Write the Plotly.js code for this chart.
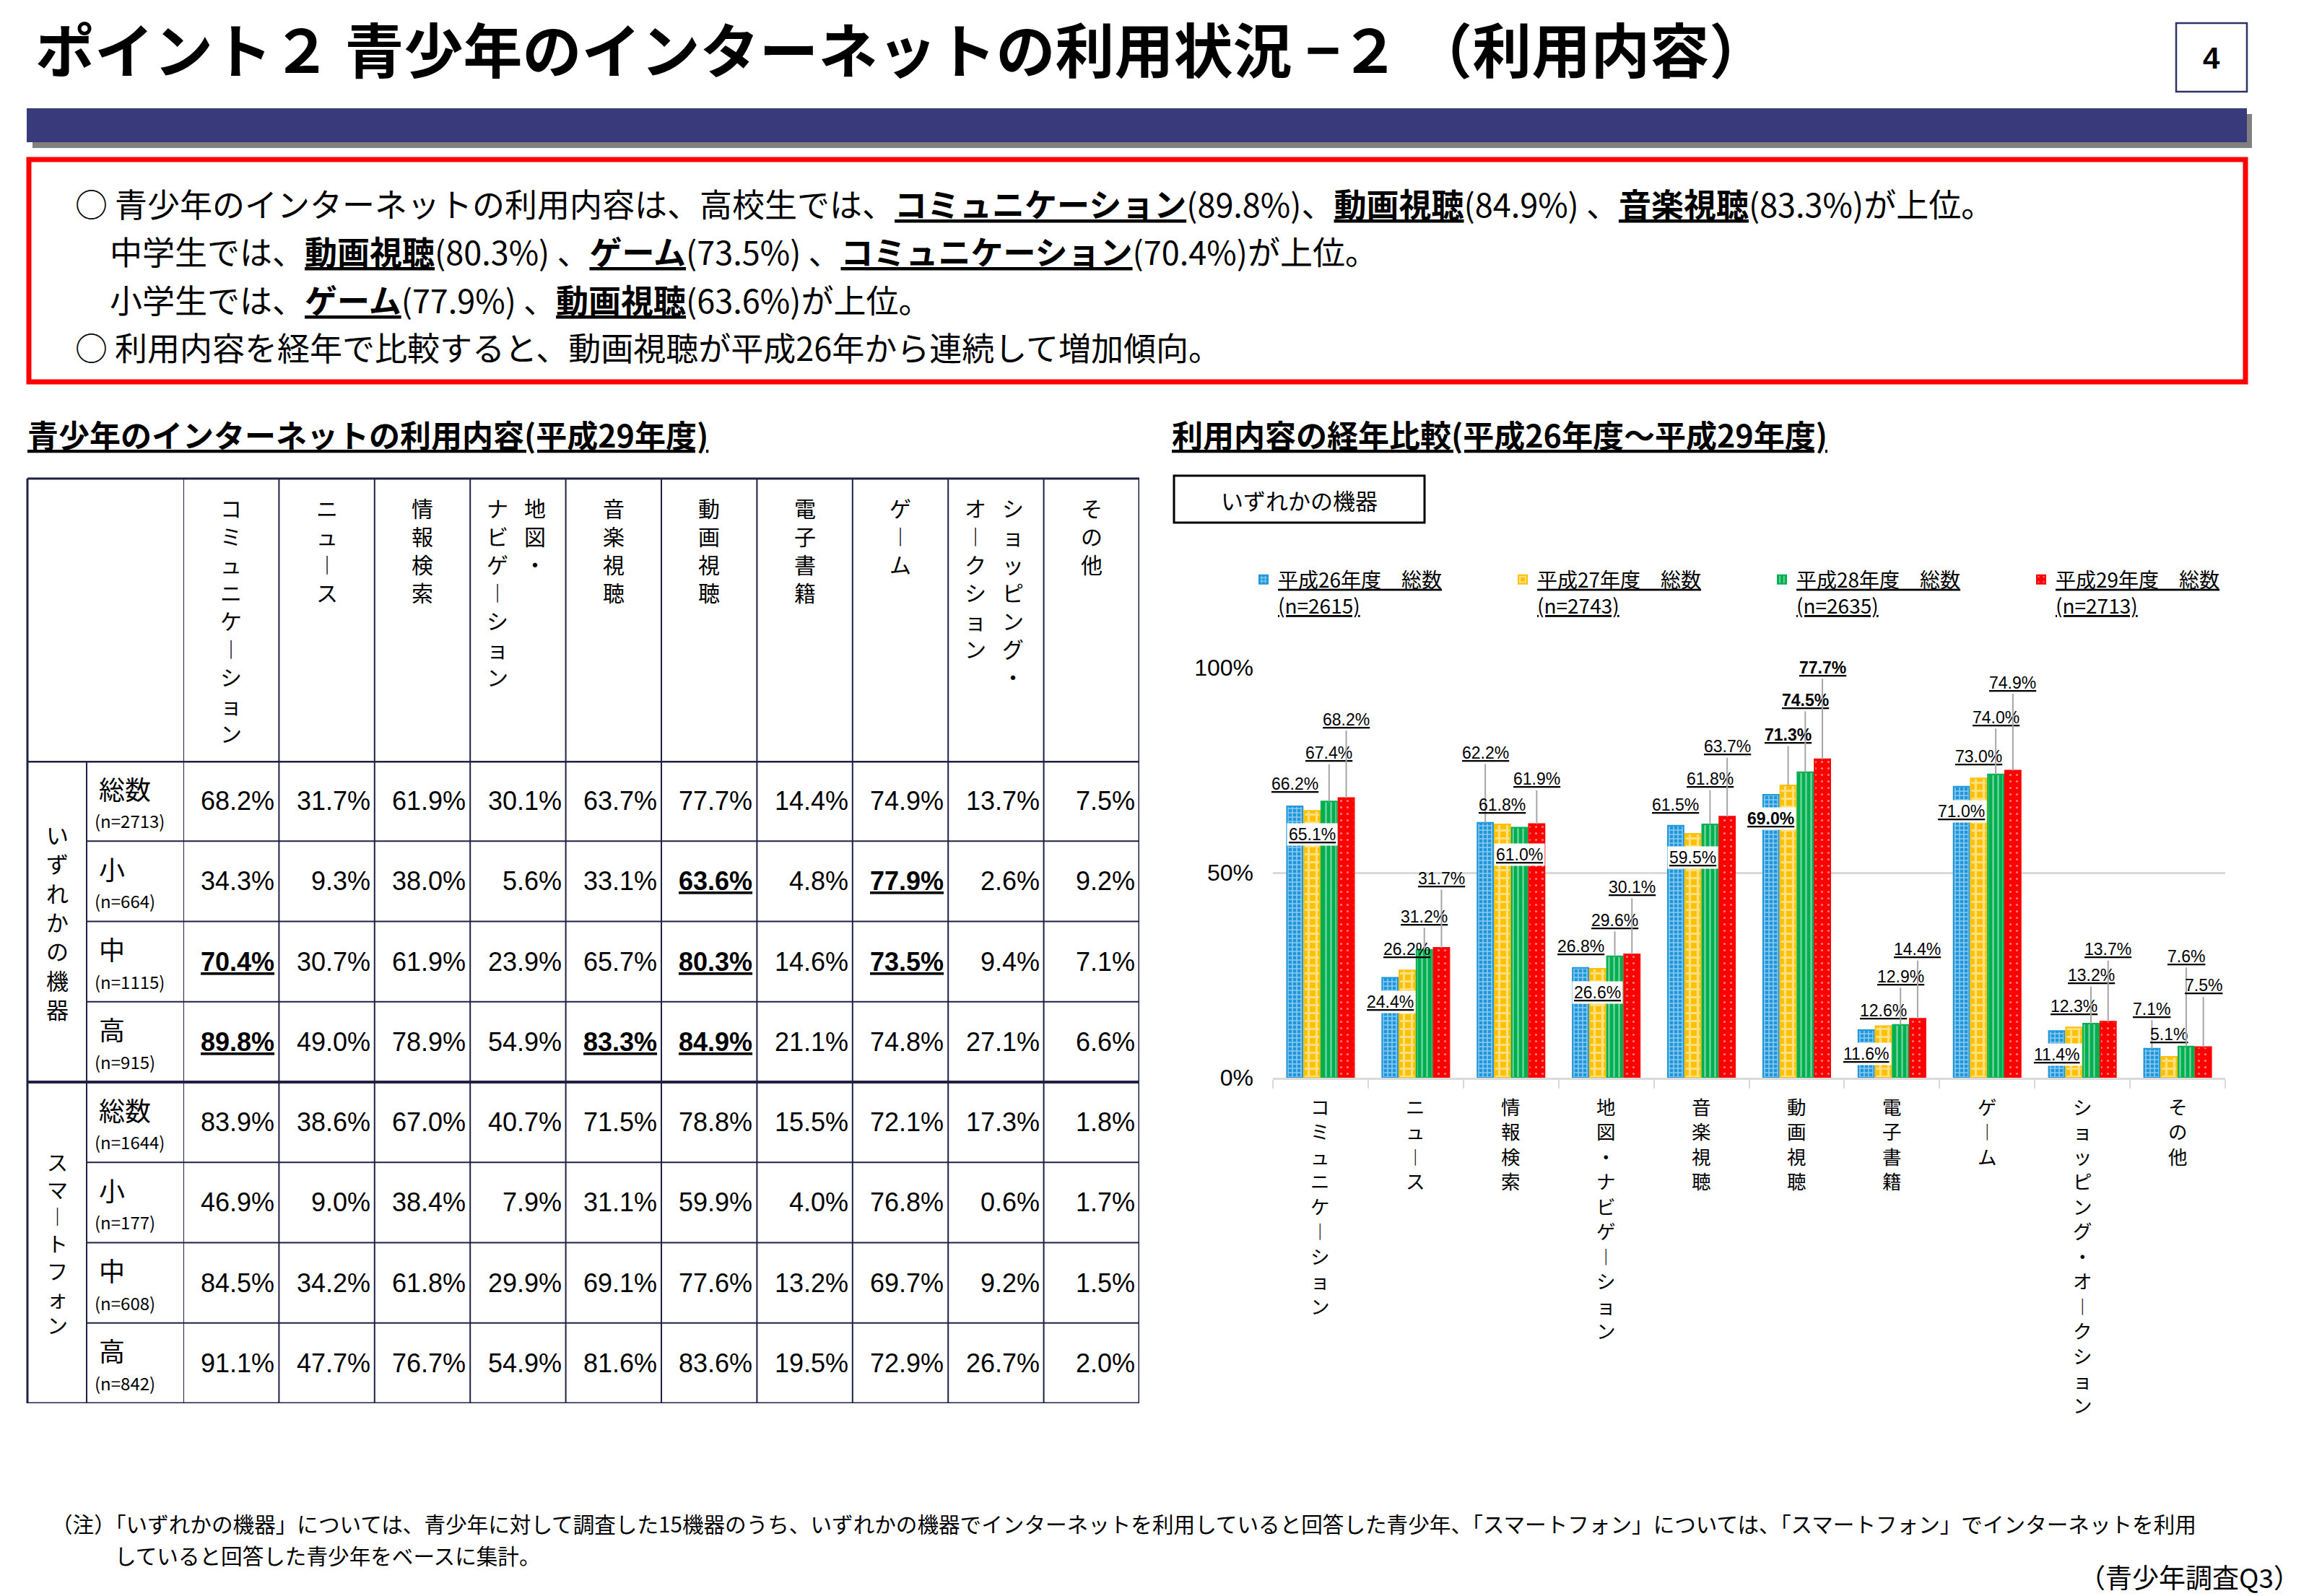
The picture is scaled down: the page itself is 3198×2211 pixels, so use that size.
<!DOCTYPE html>
<html><head><meta charset="utf-8">
<script src="https://cdn.plot.ly/plotly-3.0.1.min.js"></script>
<style>html,body{margin:0;padding:0;background:#fff;overflow:hidden;}#chart{width:3198px;height:2211px;}</style>
</head><body><div id="chart"></div>
<script>
// ---------------- DATA ----------------
const usageCategories = ['コミュニケーション','ニュース','情報検索','地図・ナビゲーション','音楽視聴','動画視聴','電子書籍','ゲーム','ショッピング・オークション','その他'];
const seriesNames = ['平成26年度　総数','平成27年度　総数','平成28年度　総数','平成29年度　総数'];
const seriesN = ['(n=2615)','(n=2743)','(n=2635)','(n=2713)'];
const h26 = [66.2,24.4,62.2,26.8,61.5,69.0,11.6,71.0,11.4,7.1];
const h27 = [65.1,26.2,61.8,26.6,59.5,71.3,12.6,73.0,12.3,5.1];
const h28 = [67.4,31.2,61.0,29.6,61.8,74.5,12.9,74.0,13.2,7.6];
const h29 = [68.2,31.7,61.9,30.1,63.7,77.7,14.4,74.9,13.7,7.5];
const yTickVals = [0,50,100];
const yTickText = ['0%','50%','100%'];

const tableColumns = ['コミュニケーション','ニュース','情報検索','地図・ナビゲーション','音楽視聴','動画視聴','電子書籍','ゲーム','ショッピング・オークション','その他'];
const tableGroups = ['いずれかの機器','スマートフォン'];
const tableRowLabels = ['総数','小','中','高','総数','小','中','高'];
const tableRowN = ['(n=2713)','(n=664)','(n=1115)','(n=915)','(n=1644)','(n=177)','(n=608)','(n=842)'];
const anyTotal      = [68.2,31.7,61.9,30.1,63.7,77.7,14.4,74.9,13.7,7.5];
const anyElementary = [34.3,9.3,38.0,5.6,33.1,63.6,4.8,77.9,2.6,9.2];
const anyJunior     = [70.4,30.7,61.9,23.9,65.7,80.3,14.6,73.5,9.4,7.1];
const anyHigh       = [89.8,49.0,78.9,54.9,83.3,84.9,21.1,74.8,27.1,6.6];
const spTotal       = [83.9,38.6,67.0,40.7,71.5,78.8,15.5,72.1,17.3,1.8];
const spElementary  = [46.9,9.0,38.4,7.9,31.1,59.9,4.0,76.8,0.6,1.7];
const spJunior      = [84.5,34.2,61.8,29.9,69.1,77.6,13.2,69.7,9.2,1.5];
const spHigh        = [91.1,47.7,76.7,54.9,81.6,83.6,19.5,72.9,26.7,2.0];
const highlightedCells = [[1,5],[1,7],[2,0],[2,5],[2,7],[3,0],[3,4],[3,5]];

// ---------------- STYLE / LAYOUT HELPERS ----------------
const W = 3198, H = 2211;
const px = x => x / W;
const py = y => 1 - y / H;
const JP = '"Noto Sans CJK JP", "Noto Sans", sans-serif';
const NUM = '"Liberation Sans", Arial, sans-serif';
const seriesColors = ['#1E96DC','#FFC000','#00B050','#FF0000'];
const seriesPatterns = [
  {shape:'+', fgcolor:'#ffffff', size:6, solidity:0.45, fillmode:'overlay'},
  {shape:'+', fgcolor:'#ffffff', size:11, solidity:0.5, fillmode:'overlay'},
  {shape:'|', fgcolor:'#ffffff', size:7, solidity:0.3, fillmode:'overlay'},
  {shape:'.', fgcolor:'#ffffff', size:9, solidity:0.1, fillmode:'overlay'}
];
const decoStyles = ['underline wavy #6CB8E6','underline dashed #FFC000','underline solid #00B050','underline solid #FF0000'];
// label offsets (px) from bar top, negative = above
const labelDy = [
  [-31, 34,-97,-30,-29, 33, 33, 34, 33,-55],
  [ 33,-29,-27, 33, 33,-70,-21,-30,-29,-31],
  [-67,-46, 37,-50,-63,-100,-67,-79,-67,-125],
  [-109,-96,-62,-93,-97,-127,-96,-122,-100,-85]
];

const shapes = [];
const ann = [];
const lineCol = '#1F2044';

function hline(x0, x1, xref, y, yref, w, color) {
  shapes.push({type:'line', xref, yref, x0, x1, y0:y, y1:y, line:{color:color||lineCol, width:w}});
}
function vline(x, xref, y0, y1, yref, w, color) {
  shapes.push({type:'line', xref, yref, x0:x, x1:x, y0, y1, line:{color:color||lineCol, width:w}});
}
// vertical (tategaki) text: one character per line, long-vowel mark in its vertical form
const vert = s => Array.from(s).map(ch => ch === 'ー' ? '︱' : ch).join('<br>');
const U = s => '<b><span style="text-decoration:underline">' + s + '</span></b>';

// ---------------- HEADER ----------------
shapes.push({type:'rect', xref:'paper', yref:'paper', x0:px(45), x1:px(3119), y0:py(205), y1:py(158), fillcolor:'#808080', line:{width:0}});
shapes.push({type:'rect', xref:'paper', yref:'paper', x0:px(37), x1:px(3112), y0:py(197), y1:py(150), fillcolor:'#383A7C', line:{width:0}});
shapes.push({type:'rect', xref:'paper', yref:'paper', x0:px(3014), x1:px(3112), y0:py(127), y1:py(32), fillcolor:'#fff', line:{color:'#2E3364', width:2.5}});
ann.push({xref:'paper', yref:'paper', x:px(47), y:py(66), xanchor:'left', yanchor:'middle', showarrow:false,
  text:'<b>ポイント２ 青少年のインターネットの利用状況 −２ （利用内容）</b>', font:{family:JP, size:82, color:'#000'}});
ann.push({xref:'paper', yref:'paper', x:px(3063), y:py(80), xanchor:'center', yanchor:'middle', showarrow:false,
  text:'<b>4</b>', font:{family:NUM, size:42, color:'#000'}});

// summary box
shapes.push({type:'rect', xref:'paper', yref:'paper', x0:px(40), x1:px(3110), y0:py(529), y1:py(221), line:{color:'#FF0000', width:7}});
const summaryLines = [
  '○ 青少年のインターネットの利用内容は、高校生では、' + U('コミュニケーション') + '(89.8%)、' + U('動画視聴') + '(84.9%) 、' + U('音楽視聴') + '(83.3%)が上位。',
  '中学生では、' + U('動画視聴') + '(80.3%) 、' + U('ゲーム') + '(73.5%) 、' + U('コミュニケーション') + '(70.4%)が上位。',
  '小学生では、' + U('ゲーム') + '(77.9%) 、' + U('動画視聴') + '(63.6%)が上位。',
  '○ 利用内容を経年で比較すると、動画視聴が平成26年から連続して増加傾向。'
];
const sumX = [104, 152, 152, 104], sumY = [282, 348, 414, 480];
summaryLines.forEach((t, i) => ann.push({xref:'paper', yref:'paper', x:px(sumX[i]), y:py(sumY[i]), xanchor:'left', yanchor:'middle',
  showarrow:false, text:t, borderpad:0, borderwidth:0, font:{family:JP, size:45, color:'#000'}}));

// section titles
ann.push({xref:'paper', yref:'paper', x:px(36), y:py(601), xanchor:'left', yanchor:'middle', showarrow:false,
  text:U('青少年のインターネットの利用内容(平成29年度)'), font:{family:JP, size:43, color:'#000'}});
ann.push({xref:'paper', yref:'paper', x:px(1621), y:py(601), xanchor:'left', yanchor:'middle', showarrow:false,
  text:U('利用内容の経年比較(平成26年度〜平成29年度)'), font:{family:JP, size:43, color:'#000'}});

// ---------------- TABLE ----------------
const tableRows = [anyTotal, anyElementary, anyJunior, anyHigh, spTotal, spElementary, spJunior, spHigh];
hline(px(38), px(1578), 'paper', py(663), 'paper', 3);
hline(px(38), px(1578), 'paper', -0.5, 'y2', 5);
for (let r = 0; r < tableRows.length - 1; r++) {
  hline(r === 3 ? px(38) : px(120), px(1578), 'paper', r + 0.5, 'y2', r === 3 ? 4 : 2);
}
hline(px(38), px(1578), 'paper', tableRows.length - 0.5, 'y2', 3);
vline(px(38), 'paper', py(663), py(1944), 'paper', 3);
vline(px(120), 'paper', -0.5, tableRows.length - 0.5, 'y2', 2);
for (let j = 0; j <= tableColumns.length; j++) {
  vline(j - 0.5, 'x2', py(663), py(1944), 'paper', j === tableColumns.length ? 3 : 2);
}
// column headers (vertical)
const hdrFont = {family:JP, size:30, color:'#000'};
tableColumns.forEach((name, j) => {
  const base = {xref:'x2', yref:'paper', x:j, y:py(680), xanchor:'center', yanchor:'top', showarrow:false, font:hdrFont, borderpad:0};
  if (name.includes('・')) {
    const k = name.indexOf('・');
    ann.push(Object.assign({}, base, {text:vert(name.slice(0, k + 1)), xshift:24}));
    ann.push(Object.assign({}, base, {text:vert(name.slice(k + 1)), xshift:-28}));
  } else {
    ann.push(Object.assign({}, base, {text:vert(name)}));
  }
});
// group labels
tableGroups.forEach((g, gi) => {
  ann.push({xref:'paper', yref:'y2', x:px(79), y:gi * 4 + 1.5, xanchor:'center', yanchor:'middle', showarrow:false,
    text:vert(g), font:{family:JP, size:gi === 0 ? 31 : 29, color:'#000'}, borderpad:0});
});
// row labels
tableRowLabels.forEach((lab, r) => {
  ann.push({xref:'paper', yref:'y2', x:px(136), y:r, yshift:18, xanchor:'left', yanchor:'middle', showarrow:false,
    text:lab, font:{family:JP, size:36, color:'#000'}, borderpad:0});
  ann.push({xref:'paper', yref:'y2', x:px(130), y:r, yshift:-27, xanchor:'left', yanchor:'middle', showarrow:false,
    text:tableRowN[r], font:{family:JP, size:24, color:'#000'}, borderpad:0});
});
// cells
tableRows.forEach((row, r) => {
  row.forEach((v, j) => {
    const hi = highlightedCells.some(c => c[0] === r && c[1] === j);
    const t = v.toFixed(1) + '%';
    ann.push({xref:'x2', yref:'y2', x:j + 0.5, y:r, xshift:-4, xanchor:'right', yanchor:'middle', showarrow:false,
      text: hi ? U(t) : t, font:{family:NUM, size:36, color:'#000'}});
  });
});

// ---------------- CHART ----------------
shapes.push({type:'rect', xref:'paper', yref:'paper', x0:px(1626), x1:px(1973), y0:py(724), y1:py(659), fillcolor:'#fff', line:{color:'#000', width:3}});
ann.push({xref:'paper', yref:'paper', x:px(1799), y:py(692), xanchor:'center', yanchor:'middle', showarrow:false,
  text:'いずれかの機器', font:{family:JP, size:31, color:'#000'}});

const seriesData = [h26, h27, h28, h29];
const idx = usageCategories.map((_, i) => i);
const traces = seriesData.map((arr, k) => ({
  type:'bar', x:idx, y:arr, xaxis:'x', yaxis:'y',
  name:'<span style="text-decoration:' + decoStyles[k] + '">' + seriesNames[k] + '</span><br><span style="text-decoration:' + decoStyles[k] + '">' + seriesN[k] + '</span>',
  marker:{color:seriesColors[k], line:{color:seriesColors[k], width:2}, pattern:seriesPatterns[k]},
  hoverinfo:'skip'
}));

// data labels
const slot = 0.18;
seriesData.forEach((arr, k) => {
  arr.forEach((v, i) => {
    const dy = labelDy[k][i];
    let t = '<span style="text-decoration:' + decoStyles[k] + '">' + v.toFixed(1) + '%</span>';
    if (i === 5) t = '<b>' + t + '</b>';
    const a = {xref:'x', yref:'y', x:i + (k - 1.5) * slot, y:v, text:t, xanchor:'center', yanchor:'middle',
      font:{family:NUM, size:23, color:'#000'}, borderpad:2};
    if (dy > 0) { a.showarrow = false; a.yshift = -dy; a.bgcolor = '#fff'; }
    else if (dy > -40) { a.showarrow = false; a.yshift = -dy; }
    else { a.showarrow = true; a.ax = 0; a.ay = dy; a.arrowhead = 0; a.arrowwidth = 2; a.arrowcolor = '#A6A6A6'; a.standoff = 0; }
    ann.push(a);
  });
});
// category labels (vertical)
usageCategories.forEach((name, i) => {
  ann.push({xref:'x', yref:'paper', x:i, y:py(1512), xanchor:'center', yanchor:'top', showarrow:false,
    text:vert(name), font:{family:JP, size:26.5, color:'#000'}, borderpad:0});
});

// footnote
ann.push({xref:'paper', yref:'paper', x:px(70), y:py(2110), xanchor:'left', yanchor:'middle', showarrow:false, borderpad:0,
  text:'（注）「いずれかの機器」については、青少年に対して調査した15機器のうち、いずれかの機器でインターネットを利用していると回答した青少年、「スマートフォン」については、「スマートフォン」でインターネットを利用',
  font:{family:JP, size:29.6, color:'#000'}});
ann.push({xref:'paper', yref:'paper', x:px(158), y:py(2154), xanchor:'left', yanchor:'middle', showarrow:false, borderpad:0,
  text:'していると回答した青少年をベースに集計。', font:{family:JP, size:29.6, color:'#000'}});
ann.push({xref:'paper', yref:'paper', x:px(3188), y:py(2184), xanchor:'right', yanchor:'middle', showarrow:false,
  text:'（青少年調査Q3）', font:{family:JP, size:37, color:'#000'}});

const boundaries = usageCategories.map((_, i) => i - 0.5).concat([usageCategories.length - 0.5]);

const layout = {
  width:W, height:H, margin:{l:0, r:0, t:0, b:0, pad:0, autoexpand:false}, paper_bgcolor:'#fff', plot_bgcolor:'rgba(0,0,0,0)',
  font:{family:JP, color:'#000'},
  barmode:'group', bargap:0.28, bargroupgap:0.08,
  showlegend:true,
  legend:{orientation:'h', x:px(1730), y:py(778), xanchor:'left', yanchor:'top', font:{family:JP, size:28, color:'#000'},
    entrywidth:314, entrywidthmode:'pixels', valign:'top', itemwidth:30, bgcolor:'rgba(0,0,0,0)', traceorder:'normal'},
  xaxis:{domain:[px(1763), px(3082)], range:[-0.5, usageCategories.length - 0.5], tickvals:boundaries, ticks:'outside', ticklen:12,
    tickwidth:2, tickcolor:'#D9D9D9', showticklabels:false, showgrid:false, showline:true, linecolor:'#D9D9D9', linewidth:3,
    zeroline:false, fixedrange:true, anchor:'y', automargin:false},
  yaxis:{domain:[py(1493), py(925)], range:[0, 100], tickvals:yTickVals, ticktext:yTickText, showgrid:true, gridcolor:'#D9D9D9',
    gridwidth:3, zeroline:false, showline:false, ticks:'', ticklabelstandoff:26, automargin:false,
    tickfont:{family:NUM, size:32, color:'#000'}, fixedrange:true, anchor:'x'},
  xaxis2:{domain:[px(254), px(1578)], range:[-0.5, 9.5], visible:false, fixedrange:true, anchor:'y2'},
  yaxis2:{domain:[py(1944), py(1054)], range:[7.5, -0.5], visible:false, fixedrange:true, anchor:'x2'},
  shapes:shapes, annotations:ann
};

Plotly.newPlot('chart', traces, layout, {displayModeBar:false, staticPlot:true});
</script>
</body></html>
